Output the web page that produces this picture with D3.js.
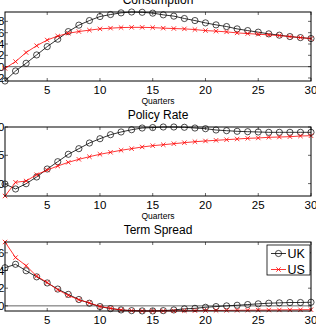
<!DOCTYPE html>
<html>
<head>
<meta charset="utf-8">
<script src="https://cdn.jsdelivr.net/npm/d3@7"></script>
<style>
  html, body { margin: 0; padding: 0; background: #fff; }
  svg { display: block; font-family: "Liberation Sans", Arial, sans-serif; }
</style>
</head>
<body>
<svg id="chart" width="316" height="328"></svg>
<script>
// ---------- data ----------
const quarters = [1,2,3,4,5,6,7,8,9,10,11,12,13,14,15,16,17,18,19,20,21,22,23,24,25,26,27,28,29,30];
const xTicks = [5, 10, 15, 20, 25, 30];
const seriesNames = ["UK", "US"];
const titles = ["Consumption", "Policy Rate", "Term Spread"];
const xLabel = "Quarters";

const consumptionUK = [-2.53,-0.76,0.6,2.07,3.54,4.85,6.19,7.33,8.14,8.85,9.2,9.5,9.65,9.6,9.45,9.15,8.92,8.5,8.14,7.73,7.38,7.08,6.67,6.37,6.09,5.79,5.56,5.31,5.13,4.96];
const consumptionUS = [-0.3,0.9,2.5,3.7,4.7,5.4,5.9,6.2,6.45,6.67,6.8,6.9,6.94,6.94,6.9,6.8,6.73,6.67,6.55,6.37,6.27,6.14,5.96,5.84,5.73,5.61,5.49,5.31,5.13,4.96];
const consumptionTicks = [-2, 0, 2, 4, 6, 8];

const policyUK = [9.93,9.05,9.98,11.17,12.58,13.87,15.18,16.17,17.17,17.93,18.64,19.12,19.52,19.82,19.9,20.0,20.0,19.95,19.82,19.7,19.47,19.35,19.24,19.17,19.12,19.06,19.06,19.06,19.06,19.06];
const policyUS = [7.81,10.23,10.46,11.57,12.4,13.11,13.76,14.29,14.75,15.18,15.53,15.89,16.17,16.47,16.7,16.87,17.05,17.23,17.4,17.53,17.65,17.76,17.88,18.0,18.06,18.18,18.23,18.29,18.41,18.46];
const policyTicks = [10, 15, 20];

const spreadUK = [4.31,4.7,3.97,3.28,2.59,1.9,1.3,0.72,0.3,-0.08,-0.31,-0.46,-0.54,-0.57,-0.57,-0.54,-0.46,-0.34,-0.28,-0.16,-0.08,0,0.07,0.15,0.23,0.3,0.34,0.38,0.38,0.41];
const spreadUS = [7.22,5.46,4.54,3.36,2.64,1.83,1.18,0.69,0.34,-0.08,-0.27,-0.46,-0.54,-0.58,-0.58,-0.57,-0.56,-0.55,-0.54,-0.53,-0.52,-0.51,-0.5,-0.49,-0.48,-0.47,-0.46,-0.45,-0.44,-0.43];
const spreadTicks = [0, 2, 4, 6];

// ---------- layout ----------
const svg = d3.select("#chart");
const left = 5, right = 311;
const panelTops = [12, 127, 242];
const panelH = 69;
const colors = { UK: "#000000", US: "#ff0000" };

const panels = [
  { title: titles[0], uk: consumptionUK, us: consumptionUS, ticks: consumptionTicks, zero: true },
  { title: titles[1], uk: policyUK, us: policyUS, ticks: policyTicks, zero: false },
  { title: titles[2], uk: spreadUK, us: spreadUS, ticks: spreadTicks, zero: true, legend: true }
];

const x = d3.scaleLinear().domain([d3.min(quarters), d3.max(quarters)]).range([left, right]);

panels.forEach((p, i) => {
  const top = panelTops[i], bottom = top + panelH;
  const ext = d3.extent(p.uk.concat(p.us));
  const y = d3.scaleLinear().domain(ext).range([bottom, top]);
  const g = svg.append("g");

  // title
  g.append("text").attr("x", 158).attr("y", top - 8.5)
    .attr("text-anchor", "middle").attr("font-size", 12).text(p.title);

  // zero line
  if (p.zero) {
    g.append("line").attr("x1", left).attr("x2", right)
      .attr("y1", y(0)).attr("y2", y(0))
      .attr("stroke", "#222").attr("stroke-width", 0.7);
  }

  // ticks inside, on all four sides
  const tl = 3;
  xTicks.forEach(t => {
    g.append("line").attr("x1", x(t)).attr("x2", x(t)).attr("y1", bottom).attr("y2", bottom - tl)
      .attr("stroke", "#000").attr("stroke-width", 0.6);
    g.append("line").attr("x1", x(t)).attr("x2", x(t)).attr("y1", top).attr("y2", top + tl)
      .attr("stroke", "#000").attr("stroke-width", 0.6);
    g.append("text").attr("x", x(t)).attr("y", bottom + 12.8)
      .attr("text-anchor", "middle").attr("font-size", 11.5).text(t);
  });
  p.ticks.forEach(t => {
    g.append("line").attr("x1", left).attr("x2", left + tl).attr("y1", y(t)).attr("y2", y(t))
      .attr("stroke", "#000").attr("stroke-width", 0.6);
    g.append("line").attr("x1", right).attr("x2", right - tl).attr("y1", y(t)).attr("y2", y(t))
      .attr("stroke", "#000").attr("stroke-width", 0.6);
    g.append("text").attr("x", 4.5).attr("y", y(t)).attr("dy", "0.36em")
      .attr("text-anchor", "end").attr("font-size", 11.5).text(t);
  });

  // x label
  g.append("text").attr("x", 158).attr("y", bottom + 22.5)
    .attr("text-anchor", "middle").attr("font-size", 8.5).text(xLabel);

  // series
  const line = d3.line().x((d, k) => x(quarters[k])).y(d => y(d));
  [["UK", p.uk], ["US", p.us]].forEach(([name, vals]) => {
    const c = colors[name];
    g.append("path").attr("d", line(vals)).attr("fill", "none")
      .attr("stroke", c).attr("stroke-width", 0.8);
    vals.forEach((v, k) => {
      const cx = x(quarters[k]), cy = y(v);
      if (name === "UK") {
        g.append("circle").attr("cx", cx).attr("cy", cy).attr("r", 3.1)
          .attr("fill", "none").attr("stroke", c).attr("stroke-width", 0.7);
      } else {
        const s = 2.2;
        g.append("path").attr("d", `M${cx - s},${cy - s}L${cx + s},${cy + s}M${cx - s},${cy + s}L${cx + s},${cy - s}`)
          .attr("stroke", c).attr("stroke-width", 0.8);
      }
    });
  });

  // box
  g.append("rect").attr("x", left).attr("y", top).attr("width", right - left).attr("height", panelH)
    .attr("fill", "none").attr("stroke", "#000").attr("stroke-width", 1);

  // legend
  if (p.legend) {
    const lx = 267, ly = 245, lw = 43, lh = 30;
    const lg = g.append("g");
    lg.append("rect").attr("x", lx).attr("y", ly).attr("width", lw).attr("height", lh)
      .attr("fill", "#fff").attr("stroke", "#000").attr("stroke-width", 0.8);
    seriesNames.forEach((name, k) => {
      const ry = 253.5 + k * 16;
      const c = colors[name];
      lg.append("line").attr("x1", 271).attr("x2", 286).attr("y1", ry).attr("y2", ry)
        .attr("stroke", c).attr("stroke-width", 0.8);
      if (name === "UK") {
        lg.append("circle").attr("cx", 278.5).attr("cy", ry).attr("r", 3.1)
          .attr("fill", "none").attr("stroke", c).attr("stroke-width", 0.7);
      } else {
        const s = 2.2, cx = 278.5;
        lg.append("path").attr("d", `M${cx - s},${ry - s}L${cx + s},${ry + s}M${cx - s},${ry + s}L${cx + s},${ry - s}`)
          .attr("stroke", c).attr("stroke-width", 0.8);
      }
      lg.append("text").attr("x", 287.5).attr("y", ry).attr("dy", "0.36em")
        .attr("font-size", 12.5).text(name);
    });
  }
});
</script>
</body>
</html>
